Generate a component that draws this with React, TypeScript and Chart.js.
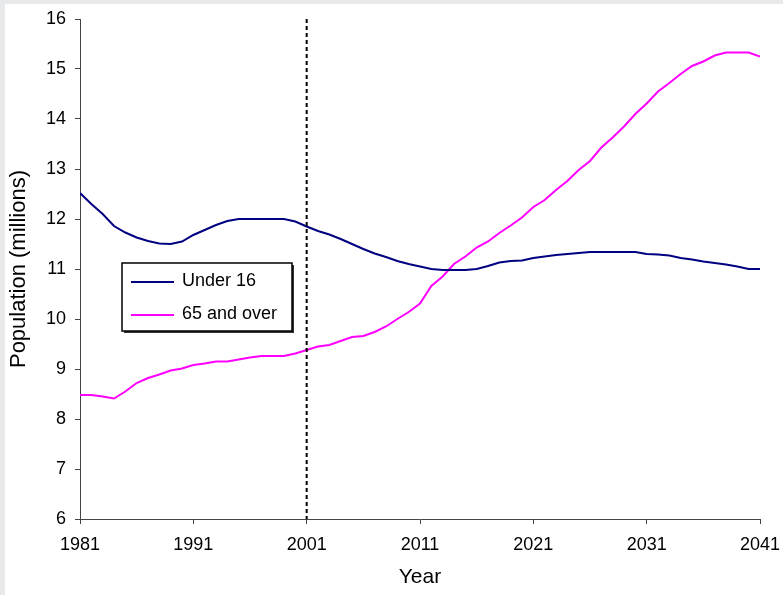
import { useEffect, useRef } from "react";
import { Chart, registerables } from "chart.js";

Chart.register(...registerables);

const years = [
  1981, 1982, 1983, 1984, 1985, 1986, 1987, 1988, 1989, 1990,
  1991, 1992, 1993, 1994, 1995, 1996, 1997, 1998, 1999, 2000,
  2001, 2002, 2003, 2004, 2005, 2006, 2007, 2008, 2009, 2010,
  2011, 2012, 2013, 2014, 2015, 2016, 2017, 2018, 2019, 2020,
  2021, 2022, 2023, 2024, 2025, 2026, 2027, 2028, 2029, 2030,
  2031, 2032, 2033, 2034, 2035, 2036, 2037, 2038, 2039, 2040,
  2041,
];

const under16 = [
  12.52, 12.3, 12.1, 11.86, 11.73, 11.63, 11.56, 11.51, 11.5, 11.55,
  11.68, 11.78, 11.88, 11.96, 12.0, 12.0, 12.0, 12.0, 12.0, 11.95,
  11.85, 11.76, 11.69, 11.6, 11.5, 11.4, 11.31, 11.24, 11.16, 11.1,
  11.05, 11.0, 10.98, 10.98, 10.98, 11.0, 11.06, 11.13, 11.16, 11.17,
  11.22, 11.25, 11.28, 11.3, 11.32, 11.34, 11.34, 11.34, 11.34, 11.34,
  11.3, 11.29, 11.27, 11.22, 11.19, 11.15, 11.12, 11.09, 11.05, 11.0,
  11.0,
];

const over65 = [
  8.48, 8.48, 8.45, 8.41, 8.55, 8.72, 8.82, 8.89, 8.97, 9.01,
  9.08, 9.11, 9.15, 9.15, 9.19, 9.23, 9.26, 9.26, 9.26, 9.31,
  9.38, 9.45, 9.48, 9.56, 9.64, 9.66, 9.74, 9.85, 10.0, 10.14,
  10.31, 10.66, 10.85, 11.1, 11.25, 11.43, 11.55, 11.72, 11.87, 12.03,
  12.24, 12.38, 12.58, 12.76, 12.98, 13.16, 13.43, 13.63, 13.85, 14.1,
  14.31, 14.55, 14.72, 14.9, 15.06, 15.15, 15.27, 15.33, 15.33, 15.33,
  15.25,
];

const seriesLabels = ["Under 16", "65 and over"];
const xTickValues = [1981, 1991, 2001, 2011, 2021, 2031, 2041];
const yTickValues = [6, 7, 8, 9, 10, 11, 12, 13, 14, 15, 16];
const markerYear = 2001;

const FONT = "'Liberation Sans', Arial, Helvetica, sans-serif";

const markerPlugin = {
  id: "markerLine",
  afterDatasetsDraw(chart: any) {
    const { ctx, chartArea, scales } = chart;
    const x = scales.x.getPixelForValue(markerYear);
    ctx.save();
    ctx.strokeStyle = "#000";
    ctx.lineWidth = 2;
    ctx.setLineDash([4, 3]);
    ctx.beginPath();
    ctx.moveTo(x, chartArea.top);
    ctx.lineTo(x, chartArea.bottom);
    ctx.stroke();
    ctx.restore();
  },
};

const boxLegendPlugin = {
  id: "boxLegend",
  afterDraw(chart: any) {
    const { ctx, chartArea } = chart;
    const x0 = chartArea.left + 42;
    const y0 = chartArea.top + 244;
    const w = 170;
    const h = 68;
    ctx.save();
    ctx.fillStyle = "#fff";
    ctx.fillRect(x0, y0, w, h);
    ctx.strokeStyle = "#333";
    ctx.lineWidth = 2;
    ctx.beginPath();
    ctx.moveTo(x0 + w + 1, y0 + 2);
    ctx.lineTo(x0 + w + 1, y0 + h + 1);
    ctx.lineTo(x0 + 2, y0 + h + 1);
    ctx.stroke();
    ctx.strokeStyle = "#000";
    ctx.lineWidth = 1.5;
    ctx.strokeRect(x0, y0, w, h);
    chart.data.datasets.forEach((ds: any, i: number) => {
      const cy = y0 + 19 + i * 33;
      ctx.strokeStyle = ds.borderColor;
      ctx.lineWidth = 2;
      ctx.beginPath();
      ctx.moveTo(x0 + 9, cy);
      ctx.lineTo(x0 + 52, cy);
      ctx.stroke();
      ctx.fillStyle = "#000";
      ctx.font = `18px ${FONT}`;
      ctx.textBaseline = "middle";
      ctx.textAlign = "left";
      ctx.fillText(ds.label, x0 + 60, cy - 1);
    });
    ctx.restore();
  },
};

export default function App() {
  const canvasRef = useRef<HTMLCanvasElement | null>(null);

  useEffect(() => {
    if (!canvasRef.current) return;
    const tickFont = { family: FONT, size: 18 };
    const xTitleFont = { family: FONT, size: 21 };
    const yTitleFont = { family: FONT, size: 22 };
    const chart = new Chart(canvasRef.current, {
      type: "line",
      data: {
        datasets: [
          {
            label: seriesLabels[0],
            data: years.map((yr, i) => ({ x: yr, y: under16[i] })),
            borderColor: "#000080",
            borderWidth: 2,
            pointRadius: 0,
            tension: 0,
            fill: false,
          },
          {
            label: seriesLabels[1],
            data: years.map((yr, i) => ({ x: yr, y: over65[i] })),
            borderColor: "#FF00FF",
            borderWidth: 2,
            pointRadius: 0,
            tension: 0,
            fill: false,
          },
        ],
      },
      options: {
        animation: false,
        responsive: true,
        maintainAspectRatio: false,
        layout: { padding: { top: 15, right: 23, left: 0, bottom: 0 } },
        plugins: {
          legend: { display: false },
          tooltip: { enabled: false },
        },
        scales: {
          x: {
            type: "linear",
            min: 1981,
            max: 2041,
            afterBuildTicks: (s: any) => {
              s.ticks = xTickValues.map((v) => ({ value: v }));
            },
            afterFit: (s: any) => {
              s.height = 76;
              s.paddingLeft = 0;
              s.paddingRight = 0;
            },
            grid: {
              display: true,
              drawOnChartArea: false,
              drawTicks: true,
              tickLength: 5,
              color: "#444",
              lineWidth: 1,
            },
            border: { display: true, color: "#444", width: 1 },
            ticks: {
              font: tickFont,
              color: "#000",
              padding: 10,
              maxRotation: 0,
              autoSkip: false,
              callback: (v: any) => String(v),
            },
            title: {
              display: true,
              text: "Year",
              font: xTitleFont,
              color: "#000",
              padding: { top: 4, bottom: 5 },
            },
          },
          y: {
            type: "linear",
            min: 6,
            max: 16,
            afterBuildTicks: (s: any) => {
              s.ticks = yTickValues.map((v) => ({ value: v }));
            },
            afterFit: (s: any) => {
              s.width = 75;
              s.paddingTop = 0;
              s.paddingBottom = 0;
            },
            grid: {
              display: true,
              drawOnChartArea: false,
              drawTicks: true,
              tickLength: 5,
              color: "#444",
              lineWidth: 1,
            },
            border: { display: true, color: "#444", width: 1 },
            ticks: {
              font: tickFont,
              color: "#000",
              padding: 9,
              autoSkip: false,
              callback: (v: any) => String(v),
            },
            title: {
              display: true,
              text: "Population (millions)",
              font: yTitleFont,
              color: "#000",
              padding: { top: 1, bottom: 4 },
            },
          },
        },
      },
      plugins: [markerPlugin, boxLegendPlugin],
    });
    return () => chart.destroy();
  }, []);

  return (
    <div
      style={{
        position: "fixed",
        left: 0,
        top: 0,
        width: 783,
        height: 595,
        background: "#e8e9eb",
      }}
    >
      <div
        style={{
          position: "absolute",
          left: 5,
          top: 4,
          width: 778,
          height: 591,
          background: "#fff",
        }}
      >
        <canvas ref={canvasRef} />
      </div>
    </div>
  );
}
